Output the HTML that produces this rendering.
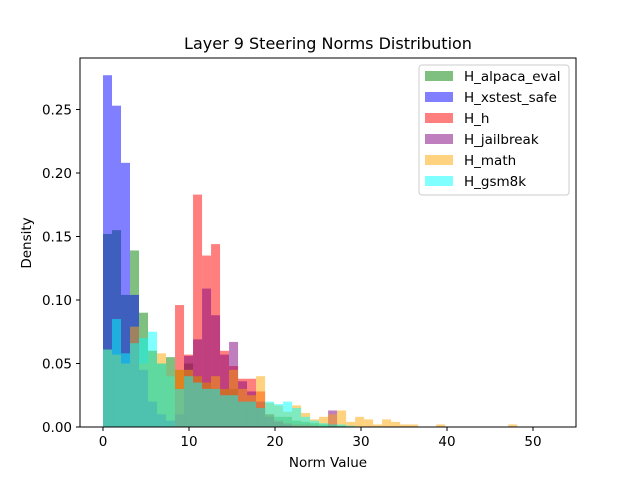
<!DOCTYPE html>
<html><head><meta charset="utf-8"><style>
body{margin:0;background:#fff;}
svg text{font-family:"DejaVu Sans","Liberation Sans",sans-serif;fill:#000;}
</style></head><body>
<svg id="chart" width="640" height="480" viewBox="0 0 640 480" xmlns="http://www.w3.org/2000/svg">
<rect width="640" height="480" fill="#fff"/>
<g id="bars"></g>
<rect x="80" y="58" width="496" height="369" fill="none" stroke="#000" stroke-width="1"/>
<g id="ticks"></g>
<text x="328" y="49" font-size="16" text-anchor="middle">Layer 9 Steering Norms Distribution</text>
<text x="328" y="467" font-size="13.5" text-anchor="middle">Norm Value</text>
<text transform="translate(31,243) rotate(-90)" font-size="13.5" text-anchor="middle">Density</text>
<g id="legend"></g>
</svg>
<script>
const binWidth = 1.047;
const seriesNames = ["H_alpaca_eval","H_xstest_safe","H_h","H_jailbreak","H_math","H_gsm8k"];
const seriesColors = ["#008000","#0000ff","#ff0000","#800080","#ffa500","#00ffff"];
const alpacaVals = [.152,.155,.104,.139,.090,.06,.05,.055,.045,.05,.04,.035,.03,.03,.03,.02,.02,.015,.01,.008,.008,.005,.004,.003,.002,.002,.001,0,0,0];
const xstestVals = [.277,.253,.208,.104,.045,.02,.01,.005,0,0];
const hVals = [0,0,0,0,0,0,0,0,.096,.057,.183,.135,.144,.06,.048,.038,.038,.028,.01,.005,.003,.002,.002,.001];
const jailbreakVals = [0,0,0,0,0,0,0,0,.01,.056,.069,.109,.088,.057,.067,.036,.028,.02,.008,.004,.002,0,0,0,0,.013,0,0];
const mathVals = [.061,.057,.05,.079,.05,.06,.058,.04,.045,.045,.04,.035,.04,.03,.045,.03,.025,.04,.019,.017,.012,.017,.011,.006,.008,.010,.013,.004,.008,.006,.002,.006,.004,.002,.002,0,0,.002,0,0,0,0,0,0,0,.002];
const gsmVals = [.061,.085,.058,.066,.07,.075,.05,.04,.03,.04,.035,.03,.03,.025,.025,.02,.02,.015,.02,.018,.02,.015,.008,.005,.003,.002,.002,.001];
const allVals = [alpacaVals,xstestVals,hVals,jailbreakVals,mathVals,gsmVals];
const xTicks = [0,10,20,30,40,50];
const yTicks = [0,0.05,0.10,0.15,0.20,0.25];
const yTickLabels = ["0.00","0.05","0.10","0.15","0.20","0.25"];

const NS="http://www.w3.org/2000/svg";
function xs(v){return 103+8.6*v;}
function ys(v){return 427-1270*v;}
const bars=document.getElementById('bars');
allVals.forEach((vals,s)=>{
  vals.forEach((v,i)=>{
    if(v<=0) return;
    const r=document.createElementNS(NS,'rect');
    const x0=xs(i*binWidth), x1=xs((i+1)*binWidth);
    r.setAttribute('x',x0);r.setAttribute('width',x1-x0);
    r.setAttribute('y',ys(v));r.setAttribute('height',ys(0)-ys(v));
    r.setAttribute('fill',seriesColors[s]);r.setAttribute('fill-opacity','0.5');
    
    
    bars.appendChild(r);
  });
});
const ticks=document.getElementById('ticks');
xTicks.forEach(t=>{
  const l=document.createElementNS(NS,'line');
  l.setAttribute('x1',xs(t));l.setAttribute('x2',xs(t));l.setAttribute('y1',427);l.setAttribute('y2',431);l.setAttribute('stroke','#000');
  
  
  ticks.appendChild(l);
  const tx=document.createElementNS(NS,'text');
  tx.setAttribute('x',xs(t));tx.setAttribute('y',446);tx.setAttribute('font-size','13.5');tx.setAttribute('text-anchor','middle');
  tx.textContent=t;
  
  
  ticks.appendChild(tx);
});
yTicks.forEach((t,i)=>{
  const l=document.createElementNS(NS,'line');
  l.setAttribute('x1',76);l.setAttribute('x2',80);l.setAttribute('y1',ys(t));l.setAttribute('y2',ys(t));l.setAttribute('stroke','#000');
  
  
  ticks.appendChild(l);
  const tx=document.createElementNS(NS,'text');
  tx.setAttribute('x',72);tx.setAttribute('y',ys(t)+5);tx.setAttribute('font-size','13.5');tx.setAttribute('text-anchor','end');
  tx.textContent=yTickLabels[i];
  
  
  ticks.appendChild(tx);
});
const lg=document.getElementById('legend');
const box=document.createElementNS(NS,'rect');
box.setAttribute('x',419);box.setAttribute('y',65);box.setAttribute('width',150);box.setAttribute('height',130);box.setAttribute('rx',3);
box.setAttribute('fill','#fff');box.setAttribute('fill-opacity','0.8');box.setAttribute('stroke','#ccc');


lg.appendChild(box);
seriesNames.forEach((n,i)=>{
  const y=76+i*21;
  const sw=document.createElementNS(NS,'rect');
  sw.setAttribute('x',425);sw.setAttribute('y',y-5);sw.setAttribute('width',28);sw.setAttribute('height',10);
  sw.setAttribute('fill',seriesColors[i]);sw.setAttribute('fill-opacity','0.5');
  
  
  lg.appendChild(sw);
  const tx=document.createElementNS(NS,'text');
  tx.setAttribute('x',464);tx.setAttribute('y',y+5);tx.setAttribute('font-size','13.5');
  tx.textContent=n;
  
  
  lg.appendChild(tx);
});
</script>
</body></html>
